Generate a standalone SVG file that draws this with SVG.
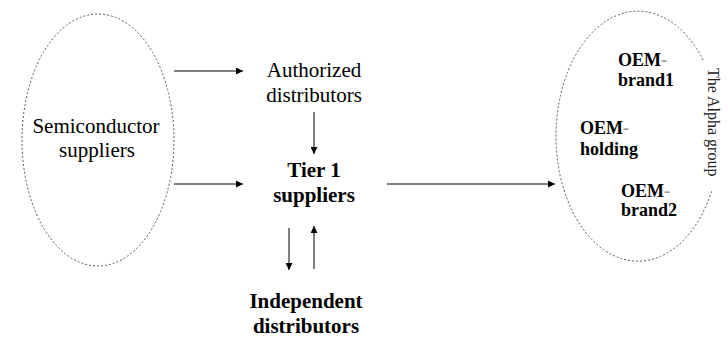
<svg xmlns="http://www.w3.org/2000/svg" width="728" height="341" viewBox="0 0 728 341">
  <defs>
    <marker id="arrow" viewBox="0 0 10 10" refX="10" refY="5" markerWidth="8" markerHeight="7" markerUnits="userSpaceOnUse" orient="auto">
      <path d="M0,0 L10,5 L0,10 z" fill="#000"/>
    </marker>
  </defs>
  <style>
    .bound { fill: none; stroke: #555; stroke-width: 1; stroke-dasharray: 2 2; }
    .lbl { font-family: "Liberation Serif", "Times New Roman", serif; font-size: 21px; fill: #000; text-anchor: middle; }
    .bold { font-weight: bold; }
    .oem { font-family: "Liberation Serif", "Times New Roman", serif; font-size: 18px; font-weight: bold; fill: #000; }
    .dash { fill: #999; }
    .group { font-family: "Liberation Serif", "Times New Roman", serif; font-size: 16px; fill: #222; }
    .link { stroke: #000; stroke-width: 1; fill: none; marker-end: url(#arrow); }
  </style>
  <rect width="728" height="341" fill="#fff"/>

  <g id="semiconductor-suppliers">
    <ellipse class="bound" cx="98" cy="140" rx="76" ry="126"/>
    <text class="lbl" x="96" y="133">Semiconductor</text>
    <text class="lbl" x="97" y="157">suppliers</text>
  </g>

  <g id="authorized-distributors">
    <text class="lbl" x="314" y="77">Authorized</text>
    <text class="lbl" x="314" y="102">distributors</text>
  </g>

  <g id="tier1-suppliers">
    <text class="lbl bold" x="314" y="177">Tier 1</text>
    <text class="lbl bold" x="314" y="202">suppliers</text>
  </g>

  <g id="independent-distributors">
    <text class="lbl bold" x="306" y="308">Independent</text>
    <text class="lbl bold" x="306" y="333">distributors</text>
  </g>

  <g id="alpha-group">
    <!-- boundary left open on the right where the group label sits -->
    <path class="bound" d="M703,60 A82,125 0 1 0 712,190"/>
    <text class="group" x="708" y="68" transform="rotate(90 708 68)">The Alpha group</text>
    <g id="oem-brand1">
      <text class="oem" x="618" y="66">OEM<tspan class="dash">-</tspan></text>
      <text class="oem" x="618" y="86">brand1</text>
    </g>
    <g id="oem-holding">
      <text class="oem" x="580" y="134">OEM<tspan class="dash">-</tspan></text>
      <text class="oem" x="580" y="155">holding</text>
    </g>
    <g id="oem-brand2">
      <text class="oem" x="621" y="197">OEM<tspan class="dash">-</tspan></text>
      <text class="oem" x="621" y="216">brand2</text>
    </g>
  </g>

  <g id="connectors">
    <line class="link" x1="174" y1="71" x2="243" y2="71"/>
    <line class="link" x1="174" y1="184" x2="243" y2="184"/>
    <line class="link" x1="314" y1="112" x2="314" y2="154"/>
    <line class="link" x1="387" y1="184" x2="555" y2="184"/>
    <line class="link" x1="289" y1="228" x2="289" y2="270"/>
    <line class="link" x1="314" y1="269" x2="314" y2="226"/>
  </g>
</svg>
